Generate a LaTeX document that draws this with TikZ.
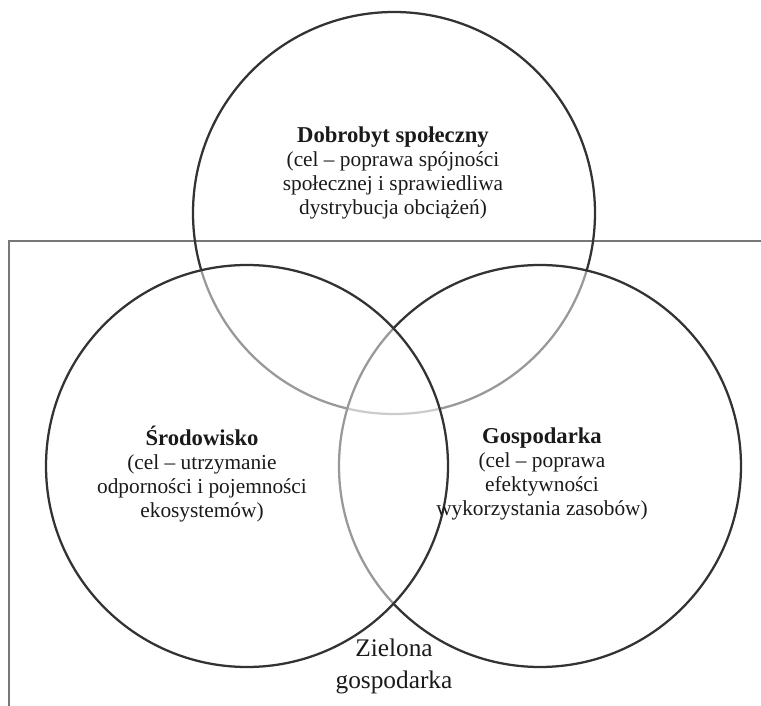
\documentclass[tikz,border=0pt]{standalone}
\usepackage{fontspec}
\setmainfont{Liberation Serif}
\definecolor{ink}{HTML}{333333}
\definecolor{framegray}{HTML}{777777}
\definecolor{txt}{HTML}{1A1A1A}
\tikzset{
  sphere/.style={circle, draw=ink, line width=1.7pt, minimum size=301.5pt, inner sep=0pt},
  veil/.style={fill=white, fill opacity=0.5, draw opacity=1},
  txtblock/.style={align=center, text=txt, inner sep=0pt, font=\fontsize{16}{17.8}\selectfont}
}
\newcommand{\headline}[1]{{\fontsize{17}{17.8}\selectfont\bfseries #1}}
\begin{document}
\begin{tikzpicture}[x=0.75pt, y=-0.75pt]
  \useasboundingbox (0,0) rectangle (761,706);
  % frame of the green economy area
  \coordinate (fr1) at (9,706);
  \coordinate (fr2) at (9,241);
  \coordinate (fr3) at (761,241);
  \draw[framegray, line width=2pt] (fr1) -- (fr2) -- (fr3);
  % the three pillars, later ones veiling the earlier outlines
  \node[sphere] (social) at (394,213) {};
  \node[sphere, veil] (economy) at (540,466) {};
  \node[sphere, veil] (environment) at (247,466) {};
  % labels
  \node[txtblock] (socialtxt) at (393,173) {\headline{Dobrobyt społeczny}\\(cel – poprawa spójności\\społecznej i sprawiedliwa\\dystrybucja obciążeń)};
  \node[txtblock] (envtxt) at (202,474) {\headline{Środowisko}\\(cel – utrzymanie\\odporności i pojemności\\ekosystemów)};
  \node[txtblock] (ecotxt) at (542,474) {\headline{Gospodarka}\\(cel – poprawa\\efektywności\\wykorzystania zasobów)};
  \node[txtblock, font=\fontsize{19}{24}\selectfont] (green) at (394,666) {Zielona\\gospodarka};
\end{tikzpicture}
\end{document}
